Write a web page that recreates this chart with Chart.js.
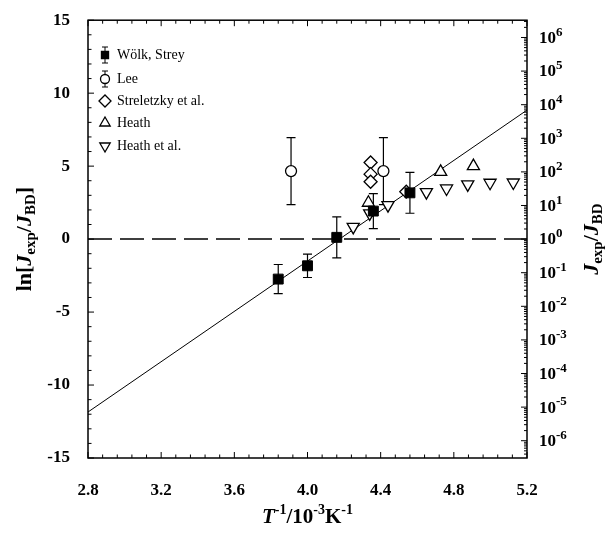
<!DOCTYPE html>
<html>
<head>
<meta charset="utf-8">
<script src="https://cdn.jsdelivr.net/npm/chart.js@4.4.1/dist/chart.umd.min.js"></script>
<style>
  body { margin: 0; background: #fff; }
  canvas { display: block; }
</style>
</head>
<body>
<canvas id="myChart" width="610" height="535"></canvas>
<script>
// data
var xTicks = [2.8, 3.2, 3.6, 4.0, 4.4, 4.8, 5.2];
var yTicks = [-15, -10, -5, 0, 5, 10, 15];
var rightExps = [-6, -5, -4, -3, -2, -1, 0, 1, 2, 3, 4, 5, 6];

var wolkX = [3.84, 4.00, 4.16, 4.36, 4.56];
var wolkY = [-2.74, -1.83, 0.12, 1.92, 3.17];
var wolkErr = [1.0, 0.8, 1.4, 1.2, 1.4];

var leeX = [3.91, 4.415];
var leeY = [4.66, 4.66];
var leeErr = [2.3, 2.3];

var strelX = [4.345, 4.345, 4.345, 4.54];
var strelY = [5.25, 4.45, 3.93, 3.25];

var heathX = [4.333, 4.728, 4.907];
var heathY = [2.49, 4.61, 5.0];

var heathEtX = [4.25, 4.34, 4.44, 4.65, 4.76, 4.876, 4.998, 5.125];
var heathEtY = [0.84, 1.76, 2.33, 3.22, 3.47, 3.75, 3.86, 3.88];

var fitX = [2.8, 5.2];
var fitY = [-11.85, 8.84];
var zeroX = [2.8, 5.2];
var zeroY = [0, 0];

function pts(xs, ys) {
  return xs.map(function(x, i) { return { x: x, y: ys[i] }; });
}

var SERIF = '"Liberation Serif", "DejaVu Serif", serif';

// draws a row of text pieces (italic / sub / sup), centred on x,y
function drawRich(ctx, parts, x, y, size) {
  var sm = Math.round(size * 0.68);
  function font(p) {
    var s = (p.sub || p.sup) ? sm : size;
    return (p.it ? 'italic ' : '') + 'bold ' + s + 'px ' + SERIF;
  }
  var total = 0;
  parts.forEach(function(p) { ctx.font = font(p); total += ctx.measureText(p.t).width; });
  var cx = x - total / 2;
  ctx.textBaseline = 'middle';
  ctx.textAlign = 'left';
  parts.forEach(function(p) {
    ctx.font = font(p);
    var dy = p.sub ? size * 0.3 : (p.sup ? -size * 0.35 : 0);
    ctx.fillText(p.t, cx, y + dy);
    cx += ctx.measureText(p.t).width;
  });
}

var decorPlugin = {
  id: 'decor',
  beforeDatasetsDraw: function(chart) {
    var ctx = chart.ctx, xs = chart.scales.x, ys = chart.scales.y;
    ctx.save();
    ctx.strokeStyle = '#000';
    ctx.lineWidth = 1.2;
    function bars(X, Y, E) {
      X.forEach(function(x, i) {
        var px = xs.getPixelForValue(x);
        var top = ys.getPixelForValue(Y[i] + E[i]);
        var bot = ys.getPixelForValue(Y[i] - E[i]);
        ctx.beginPath();
        ctx.moveTo(px, top); ctx.lineTo(px, bot);
        ctx.moveTo(px - 4.5, top); ctx.lineTo(px + 4.5, top);
        ctx.moveTo(px - 4.5, bot); ctx.lineTo(px + 4.5, bot);
        ctx.stroke();
      });
    }
    bars(wolkX, wolkY, wolkErr);
    bars(leeX, leeY, leeErr);
    ctx.restore();
  },
  afterDraw: function(chart) {
    var ctx = chart.ctx, a = chart.chartArea;
    var xs = chart.scales.x, ys = chart.scales.y;
    ctx.save();
    ctx.strokeStyle = '#000';
    ctx.fillStyle = '#000';
    // frame
    ctx.lineWidth = 1.5;
    ctx.strokeRect(a.left, a.top, a.right - a.left, a.bottom - a.top);
    ctx.lineWidth = 1;
    ctx.beginPath();
    // x ticks, bottom and top, inward
    for (var i = 0; i <= 30; i++) {
      var v = 2.8 + i * 0.08;
      var px = xs.getPixelForValue(v);
      var len = (i % 5 === 0) ? 6 : 3.5;
      ctx.moveTo(px, a.bottom); ctx.lineTo(px, a.bottom - len);
      ctx.moveTo(px, a.top); ctx.lineTo(px, a.top + len);
    }
    // left ticks
    for (var k = -15; k <= 15; k++) {
      var py = ys.getPixelForValue(k);
      var l2 = (k % 5 === 0) ? 6 : 3.5;
      ctx.moveTo(a.left, py); ctx.lineTo(a.left + l2, py);
    }
    // right log ticks
    for (var e = -7; e <= 6; e++) {
      for (var m = 1; m <= 9; m++) {
        var lv = Math.log(m * Math.pow(10, e));
        if (lv < -15 || lv > 15) continue;
        var ry = ys.getPixelForValue(lv);
        var l3 = (m === 1) ? 6 : 3;
        ctx.moveTo(a.right, ry); ctx.lineTo(a.right - l3, ry);
      }
    }
    ctx.stroke();

    // right tick labels 10^n
    rightExps.forEach(function(n) {
      var py = ys.getPixelForValue(n * Math.LN10);
      ctx.textAlign = 'left';
      ctx.textBaseline = 'middle';
      ctx.font = 'bold 17px ' + SERIF;
      ctx.fillText('10', a.right + 12, py + 1);
      var w = ctx.measureText('10').width;
      ctx.font = 'bold 13px ' + SERIF;
      ctx.fillText(String(n), a.right + 12 + w, py - 5);
    });

    // axis titles
    drawRich(ctx, [
      { t: 'T', it: true }, { t: '-1', sup: true }, { t: '/10' }, { t: '-3', sup: true },
      { t: 'K' }, { t: '-1', sup: true }
    ], (a.left + a.right) / 2, 518, 21);

    ctx.save();
    ctx.translate(25, (a.top + a.bottom) / 2);
    ctx.rotate(-Math.PI / 2);
    drawRich(ctx, [
      { t: 'ln[' }, { t: 'J', it: true }, { t: 'exp', sub: true }, { t: '/' },
      { t: 'J', it: true }, { t: 'BD', sub: true }, { t: ']' }
    ], 0, 0, 22);
    ctx.restore();

    ctx.save();
    ctx.translate(592, (a.top + a.bottom) / 2);
    ctx.rotate(-Math.PI / 2);
    drawRich(ctx, [
      { t: 'J', it: true }, { t: 'exp', sub: true }, { t: '/' },
      { t: 'J', it: true }, { t: 'BD', sub: true }
    ], 0, 0, 22);
    ctx.restore();

    // legend
    var items = [
      { label: 'Wölk, Strey', style: 'rect', fill: '#000', r: 5, bar: true },
      { label: 'Lee', style: 'circle', fill: '#fff', r: 4.5, bar: true },
      { label: 'Streletzky et al.', style: 'rectRot', fill: '#fff', r: 6 },
      { label: 'Heath', style: 'triangle', fill: '#fff', r: 6, rot: 0 },
      { label: 'Heath et al.', style: 'triangle', fill: '#fff', r: 6, rot: 180 }
    ];
    var rows = [55, 79, 101, 123, 146];
    items.forEach(function(it, i) {
      var mx = 105, my = rows[i];
      ctx.strokeStyle = '#000';
      ctx.lineWidth = 1;
      if (it.bar) {
        ctx.beginPath();
        ctx.moveTo(mx, my - 8); ctx.lineTo(mx, my + 8);
        ctx.moveTo(mx - 3, my - 8); ctx.lineTo(mx + 3, my - 8);
        ctx.moveTo(mx - 3, my + 8); ctx.lineTo(mx + 3, my + 8);
        ctx.stroke();
      }
      ctx.fillStyle = it.fill;
      ctx.lineWidth = 1.3;
      Chart.helpers.drawPoint(ctx, { pointStyle: it.style, radius: it.r, rotation: it.rot || 0, borderWidth: 1.3 }, mx, my);
      ctx.fillStyle = '#000';
      ctx.font = '14px ' + SERIF;
      ctx.textAlign = 'left';
      ctx.textBaseline = 'middle';
      ctx.fillText(it.label, 117, my);
    });
    ctx.restore();
  }
};

var ctx = document.getElementById('myChart').getContext('2d');
var myChart = new Chart(ctx, {
  type: 'scatter',
  data: {
    datasets: [
      { label: 'Wölk, Strey', order: 0, data: pts(wolkX, wolkY), pointStyle: 'rect', pointRadius: 7, backgroundColor: '#000', borderColor: '#000', borderWidth: 1 },
      { label: 'Lee', order: 1, data: pts(leeX, leeY), pointStyle: 'circle', pointRadius: 5.5, backgroundColor: '#fff', borderColor: '#000', borderWidth: 1.3 },
      { label: 'Streletzky et al.', order: 2, data: pts(strelX, strelY), pointStyle: 'rectRot', pointRadius: 6.5, backgroundColor: '#fff', borderColor: '#000', borderWidth: 1.3 },
      { label: 'Heath', order: 3, data: pts(heathX, heathY), pointStyle: 'triangle', pointRadius: 7, backgroundColor: '#fff', borderColor: '#000', borderWidth: 1.3 },
      { label: 'Heath et al.', order: 4, data: pts(heathEtX, heathEtY), pointStyle: 'triangle', rotation: 180, pointRadius: 7, backgroundColor: '#fff', borderColor: '#000', borderWidth: 1.3 },
      { type: 'line', order: 5, data: pts(zeroX, zeroY), borderColor: '#000', borderWidth: 1.5, borderDash: [24, 8], pointRadius: 0, fill: false },
      { type: 'line', order: 6, data: pts(fitX, fitY), borderColor: '#000', borderWidth: 1, pointRadius: 0, fill: false }
    ]
  },
  options: {
    responsive: false,
    animation: false,
    devicePixelRatio: 1,
    layout: { padding: { top: 20, left: 0, right: 0, bottom: 0 } },
    plugins: { legend: { display: false }, tooltip: { enabled: false } },
    scales: {
      x: {
        type: 'linear', min: 2.8, max: 5.2,
        afterBuildTicks: function(s) { s.ticks = xTicks.map(function(v) { return { value: v }; }); },
        afterFit: function(s) { s.height = 77; },
        ticks: {
          padding: 14, color: '#000',
          font: { family: SERIF, size: 17, weight: 'bold' },
          callback: function(v) { return Number(v).toFixed(1); }
        },
        grid: { display: false },
        border: { display: false }
      },
      y: {
        type: 'linear', position: 'left', min: -15, max: 15,
        afterBuildTicks: function(s) { s.ticks = yTicks.map(function(v) { return { value: v }; }); },
        afterFit: function(s) { s.width = 88; },
        ticks: { padding: 10, color: '#000', font: { family: SERIF, size: 17, weight: 'bold' } },
        grid: { display: false },
        border: { display: false }
      },
      y2: {
        type: 'linear', position: 'right', min: -15, max: 15,
        afterFit: function(s) { s.width = 83; },
        ticks: { display: false },
        grid: { display: false },
        border: { display: false }
      }
    }
  },
  plugins: [decorPlugin]
});
</script>
</body>
</html>
